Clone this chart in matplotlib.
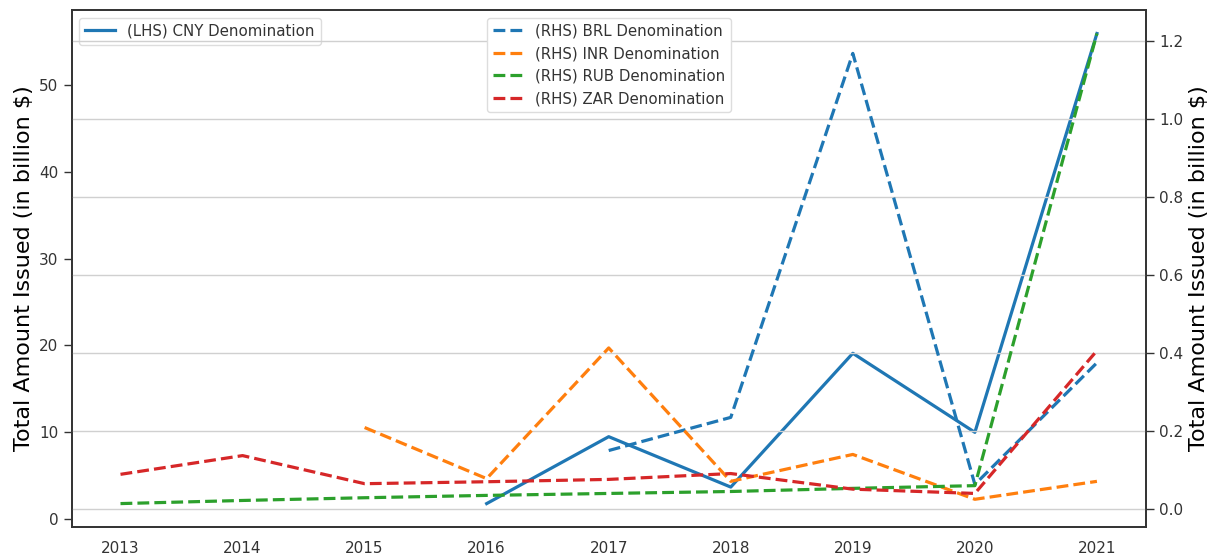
import matplotlib.pyplot as plt
import numpy as np

years = [2013, 2014, 2015, 2016, 2017, 2018, 2019, 2020, 2021]

# LHS, billion $
cny = [np.nan, np.nan, np.nan, 1.8, 9.5, 3.7, 19.1, 10.0, 55.9]

# RHS, billion $
brl = [np.nan, np.nan, np.nan, np.nan, 0.151, 0.236, 1.169, 0.064, 0.376]
inr = [np.nan, np.nan, 0.210, 0.079, 0.414, 0.072, 0.141, 0.026, 0.072]
rub = [0.015, 0.023, 0.030, 0.036, 0.041, 0.046, 0.054, 0.061, 1.220]
zar = [0.090, 0.138, 0.066, 0.071, 0.077, 0.092, 0.052, 0.041, 0.407]

txt = '#333333'
plt.rcParams['font.family'] = 'DejaVu Sans'
plt.rcParams['text.color'] = txt
plt.rcParams['xtick.color'] = txt
plt.rcParams['ytick.color'] = txt
plt.rcParams['axes.edgecolor'] = '#333333'

fig = plt.figure(figsize=(12.15, 5.56), dpi=100)
ax = fig.add_axes([0.059, 0.052, 0.884, 0.930])
ax2 = ax.twinx()

ax.plot(years, cny, color='#1f77b4', lw=2.3, label='(LHS) CNY Denomination')

ax2.plot(years, brl, color='#1f77b4', lw=2.3, ls='--', label='(RHS) BRL Denomination')
ax2.plot(years, inr, color='#ff7f0e', lw=2.3, ls='--', label='(RHS) INR Denomination')
ax2.plot(years, rub, color='#2ca02c', lw=2.3, ls='--', label='(RHS) RUB Denomination')
ax2.plot(years, zar, color='#d62728', lw=2.3, ls='--', label='(RHS) ZAR Denomination')

ax2.grid(axis='y', color='#d0d0d0', lw=1)
ax2.set_axisbelow(True)

ax.set_xticks(years)
ax.tick_params(axis='x', length=0, labelsize=11, pad=10)
ax.tick_params(axis='y', length=6, width=1, labelsize=11, color='#333333')
ax2.tick_params(axis='y', length=6, width=1, labelsize=11, color='#333333')
ax2.set_yticks([0.0, 0.2, 0.4, 0.6, 0.8, 1.0, 1.2])

for a in (ax, ax2):
    for s in a.spines.values():
        s.set_linewidth(1.25)

ax.set_ylabel('Total Amount Issued (in billion $)', fontsize=16)
ax2.set_ylabel('Total Amount Issued (in billion $)', fontsize=16)

ax.legend(loc='upper left', fontsize=10.8, framealpha=1, edgecolor='#dddddd')
ax2.legend(loc='upper center', fontsize=10.8, framealpha=1, edgecolor='#dddddd')

plt.savefig('out.png', dpi=100)
